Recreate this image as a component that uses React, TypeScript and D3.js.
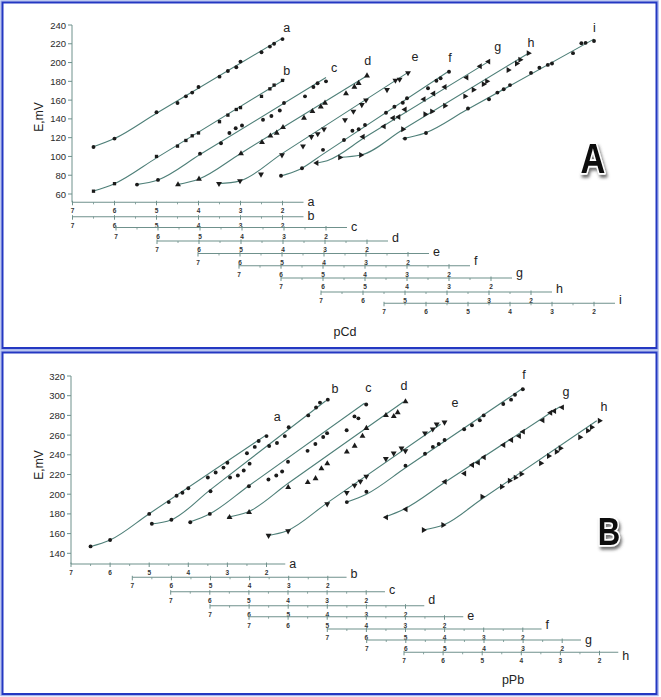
import React from "react";
import * as d3 from "d3";

// ---------------- shared values ----------------
const pConc = [6.5, 6, 5, 4.5, 4.3, 4.15, 4, 3.5, 3.3, 3.1, 3, 2.5, 2.3, 2.2, 2];
const pTickValues = [7, 6, 5, 4, 3, 2];
const pMinorValues = [6.5, 5.5, 4.5, 3.5, 2.5];

// ---------------- panel A : Cd ----------------
const cdYTicks = [60, 80, 100, 120, 140, 160, 180, 200, 220, 240];
const cdNames = ["a", "b", "c", "d", "e", "f", "g", "h", "i"];
const cdMarkers = ["circle", "square", "circle", "up", "down", "circle", "left", "right", "circle"];

const cdP_e = [6.5, 6, 5.5, 5, 4.5, 4.3, 4.15, 4, 3.5, 3.3, 3.1, 3, 2.5, 2.3, 2.2, 2];
const cdP_f = [6, 5.5, 5, 4.5, 4.3, 4.15, 4, 3.5, 3.3, 3.1, 3, 2.5, 2.3, 2.2, 2];
const cdP_g = [6.15, 5.05, 4.55, 4.33, 4.2, 4.05, 3.6, 3.37, 3.1, 2.58, 2.26, 2.06];
const cdP_h = [6.55, 6.05, 5.05, 4.52, 4.36, 4.05, 3.57, 3.37, 3.13, 3.05, 2.54, 2.34, 2.26, 2.06];

const cdE_a = [110, 119, 147, 157, 164, 168, 174, 185, 191, 195, 201, 211, 217, 220, 225];
const cdE_b = [63, 71, 100, 111, 117, 122, 125, 137, 144, 150, 152, 164, 172, 176, 181];
const cdE_c = [70, 75, 103, 114, 125, 130, 133, 139, 143, 149, 157, 164, 174, 178, 180];
const cdE_d = [70, 76, 103, 115, 122, 125, 131, 141, 148, 153, 157, 167, 174, 178, 186];
const cdE_e = [71, 74, 81, 101.5, 111, 121, 124, 129, 139, 148, 155, 160, 171, 181, 182, 189];
const cdE_f = [79.5, 87.4, 107, 117.5, 127.4, 129, 133.5, 146.6, 153, 157.2, 162, 172.6, 180.7, 183.2, 190.2];
const cdE_g = [93, 121, 132, 141, 142, 150, 161, 167, 174, 184, 196, 201];
const cdE_h = [99, 101.5, 129, 145, 148, 154, 164, 171, 177, 180, 192, 199, 203, 210];
const cdE_i = [119, 125, 151, 161, 168, 171.5, 176, 189, 194.5, 197.5, 199, 210, 220.5, 221, 223];

// fitted calibration lines [pCd, E]
const cdFit_a = [[6.52, 110], [6.0, 119], [5.0, 146], [2.0, 226]];
const cdFit_b = [[6.52, 63], [6.0, 71], [5.0, 98.5], [1.95, 182]];
const cdFit_c = [[6.52, 70], [6.0, 75], [5.0, 102], [2.0, 184]];
const cdFit_d = [[6.52, 70], [6.0, 76], [5.0, 103.5], [2.0, 186]];
const cdFit_e = [[6.52, 71], [6.0, 74], [5.0, 103], [2.0, 189.5]];
const cdFit_f = [[6.02, 79], [5.56, 86], [5.0, 102.5], [2.0, 191]];
const cdFit_g = [[6.14, 93], [5.9, 95.5], [5.0, 120.4], [2.06, 201]];
const cdFit_h = [[6.57, 99], [6.05, 101.5], [5.05, 128.7], [2.06, 210]];
const cdFit_i = [[6.56, 119], [6.02, 125], [5.05, 149.2], [2.0, 225]];

// ---------------- panel B : Pb ----------------
const pbYTicks = [140, 160, 180, 200, 220, 240, 260, 280, 300, 320];
const pbNames = ["a", "b", "c", "d", "e", "f", "g", "h"];
const pbMarkers = ["circle", "circle", "circle", "up", "down", "circle", "left", "right"];

const pbE_a = [147, 153.5, 180, 192, 198.5, 201.5, 206, 217, 222, 227, 232, 241.5, 248, 254, 259];
const pbE_b = [170, 174, 203, 217, 219, 224, 231, 249, 252, 259, 268, 280, 288, 293, 296];
const pbE_c = [171.5, 180, 208, 215, 219, 223, 233, 244, 251, 258, 262, 265, 279, 277, 291];
const pbE_d = [176.5, 181.6, 207, 212, 216, 226, 231, 243, 249, 259, 267, 280, 279, 283, 294];
const pbE_e = [158, 162.6, 190, 201.5, 209, 213, 218, 236, 241.5, 246.6, 244, 262, 266, 271, 273];
const pbE_f = [192, 202.5, 229, 241, 248, 251, 255, 266, 270, 275, 280, 291.6, 296, 301, 306.5];
const pbE_g = [176.5, 184.7, 212.7, 221, 229.6, 232, 237.5, 250, 255, 259, 263.5, 275, 282.7, 284.5, 288.2];
const pbE_h = [163.6, 168.7, 197.5, 207.6, 213.7, 216.8, 220.5, 231.4, 238.8, 243.1, 246.6, 257.8, 264.5, 268, 274.6];

const pbFit_a = [[6.51, 146.7], [6.0, 153.5], [5.0, 180.2], [2.01, 260]];
const pbFit_b = [[6.52, 169.7], [6.01, 173.8], [5.0, 204.7], [2.05, 294.9]];
const pbFit_c = [[6.53, 171.5], [6.02, 179.6], [5.0, 208.6], [2.04, 292.4]];
const pbFit_d = [[6.56, 176.5], [6.05, 181.6], [5.0, 211.1], [2.05, 293.9]];
const pbFit_e = [[6.53, 157.9], [6.04, 162.6], [5.0, 191.2], [2.1, 271]];
const pbFit_f = [[6.52, 191.8], [6.0, 200], [5.0, 226.9], [2.0, 307.5]];
const pbFit_g = [[6.55, 176.5], [6.05, 184.7], [5.0, 212.1], [2.06, 288.8]];
const pbFit_h = [[6.51, 163.6], [5.99, 168.7], [5.0, 195.4], [2.07, 274.6]];

// ---------------- build series ----------------
const cdSeries = [
  { p: pConc, E: cdE_a, fit: cdFit_a },
  { p: pConc, E: cdE_b, fit: cdFit_b },
  { p: pConc, E: cdE_c, fit: cdFit_c },
  { p: pConc, E: cdE_d, fit: cdFit_d },
  { p: cdP_e, E: cdE_e, fit: cdFit_e },
  { p: cdP_f, E: cdE_f, fit: cdFit_f },
  { p: cdP_g, E: cdE_g, fit: cdFit_g },
  { p: cdP_h, E: cdE_h, fit: cdFit_h },
  { p: pConc, E: cdE_i, fit: cdFit_i },
].map((s, i) => ({ ...s, name: cdNames[i], marker: cdMarkers[i] }));

const pbSeries = [
  { p: pConc, E: pbE_a, fit: pbFit_a },
  { p: pConc, E: pbE_b, fit: pbFit_b },
  { p: pConc, E: pbE_c, fit: pbFit_c },
  { p: pConc, E: pbE_d, fit: pbFit_d },
  { p: pConc, E: pbE_e, fit: pbFit_e },
  { p: pConc, E: pbE_f, fit: pbFit_f },
  { p: pConc, E: pbE_g, fit: pbFit_g },
  { p: pConc, E: pbE_h, fit: pbFit_h },
].map((s, i) => ({ ...s, name: pbNames[i], marker: pbMarkers[i] }));

// ---------------- layout (positions only) ----------------
const layoutA = {
  yDomain: [60, 240],
  yRange: [194, 25],
  yAxisX: 72,
  unit: 42,
  pEnd: 1.5,
  x0: [72.5, 72.5, 116, 157, 198, 239, 281, 321, 384],
  axisY: [202.3, 216.7, 227.5, 241, 253.5, 265.7, 278, 292, 303.3],
  seriesLabel: [
    [286.7, 28.3], [286.7, 70.7], [334, 68.3], [367.7, 61], [415, 56.7],
    [450, 58.3], [497.7, 46.7], [531, 43.3], [594.3, 28.3],
  ],
  axisLabelDy: [0, -1, -1, -3, -2, -5, -5, -3, -3],
  yTitle: [39, 117],
  xTitle: [345, 336, "pCd"],
  letter: [593, 173, 42, "A"],
  rect: [2.5, 2.5, 654, 345.5],
};

const layoutB = {
  yDomain: [140, 320],
  yRange: [553.3, 376],
  yAxisX: 71,
  unit: 39.1,
  pEnd: 1.52,
  x0: [71, 132.3, 170.7, 210, 249, 327.3, 366.7, 404],
  axisY: [564, 577.3, 591.7, 605.7, 616.7, 629, 640, 652.3],
  seriesLabel: [
    [277.3, 417.3], [335, 389.3], [368.3, 387.7], [404, 386], [455, 403.3],
    [524, 375], [566, 391.7], [604, 407.3],
  ],
  axisLabelDy: [0, -3, -2, -6, -1, -4, 0, 4],
  yTitle: [39, 465],
  xTitle: [513, 684, "pPb"],
  letter: [609, 545, 38, "B"],
  rect: [2.5, 352.5, 654, 341.5],
};

const LINE = "#4e7f78";
const AXIS = "#6f918c";
const MARK = "#1b1b1b";
const FONT = "'Liberation Sans', Arial, Helvetica, sans-serif";

function markerPath(kind: string) {
  if (kind === "circle") return { d: d3.symbol().type(d3.symbolCircle).size(12)() as string, rot: 0 };
  if (kind === "square") return { d: d3.symbol().type(d3.symbolSquare).size(11)() as string, rot: 0 };
  const d = d3.symbol().type(d3.symbolTriangle).size(15)() as string;
  const rot = kind === "up" ? 0 : kind === "down" ? 180 : kind === "left" ? -90 : 90;
  return { d, rot };
}

function Panel({ series, L, id }: any) {
  const ys = d3.scaleLinear().domain(L.yDomain).range(L.yRange);
  const [rx, ry, rw, rh] = L.rect;
  const lx = L.letter;
  return (
    <g>
      <rect x={rx - 1.5} y={ry - 1.5} width={rw + 3} height={rh + 3} fill="none" stroke="#a9b8ec" strokeWidth={1.5} />
      <rect x={rx} y={ry} width={rw} height={rh} fill="#ffffff" stroke="#2438c2" strokeWidth={2} />

      {/* y axis */}
      <line x1={L.yAxisX} x2={L.yAxisX} y1={ys(L.yDomain[1])} y2={L.axisY[0]} stroke={AXIS} strokeWidth={1} />
      {(id === "A" ? cdYTicks : pbYTicks).map((t: number) => (
        <g key={t}>
          <line x1={L.yAxisX - 4} x2={L.yAxisX} y1={ys(t)} y2={ys(t)} stroke={AXIS} strokeWidth={1} />
          <text x={L.yAxisX - 6} y={ys(t)} textAnchor="end" dominantBaseline="central" fontSize={9.5} fontFamily={FONT} fill="#2a2a2a">
            {t}
          </text>
        </g>
      ))}
      <text
        transform={`translate(${L.yTitle[0]},${L.yTitle[1]}) rotate(-90)`}
        textAnchor="middle"
        dominantBaseline="central"
        fontSize={12}
        fontFamily={FONT}
        fill="#222"
      >
        E,mV
      </text>

      {series.map((s: any, i: number) => {
        const x0 = L.x0[i];
        const xs = d3.scaleLinear().domain([7, 2]).range([x0, x0 + 5 * L.unit]);
        const ay = L.axisY[i];
        const line = d3
          .line<number[]>()
          .x((d) => xs(d[0]))
          .y((d) => ys(d[1]))
          .curve(d3.curveMonotoneX);
        const mk = markerPath(s.marker);
        const endX = xs(L.pEnd);
        return (
          <g key={s.name}>
            {/* offset p axis for this curve */}
            <line x1={xs(7)} x2={endX} y1={ay} y2={ay} stroke={AXIS} strokeWidth={1.1} />
            {pTickValues.map((t) => (
              <g key={t}>
                <line x1={xs(t)} x2={xs(t)} y1={ay - 1.5} y2={ay + 3} stroke={AXIS} strokeWidth={1} />
                <text x={xs(t)} y={ay + 11} textAnchor="middle" fontSize={6.5} fontWeight="bold" fontFamily={FONT} fill="#333">
                  {t}
                </text>
              </g>
            ))}
            {pMinorValues.map((t) => (
              <line key={t} x1={xs(t)} x2={xs(t)} y1={ay} y2={ay + 2} stroke={AXIS} strokeWidth={0.8} />
            ))}
            <text x={endX + 4} y={ay + 4 + L.axisLabelDy[i]} fontSize={12.5} fontFamily={FONT} fill="#222">
              {s.name}
            </text>

            {/* calibration line */}
            <path d={line(s.fit) || ""} fill="none" stroke={LINE} strokeWidth={1.1} />
            {/* points */}
            {s.p.map((p: number, j: number) => (
              <path
                key={j}
                d={mk.d}
                transform={`translate(${xs(p)},${ys(s.E[j])}) rotate(${mk.rot})`}
                fill={MARK}
              />
            ))}
            <text
              x={L.seriesLabel[i][0]}
              y={L.seriesLabel[i][1]}
              textAnchor="middle"
              dominantBaseline="central"
              fontSize={12.5}
              fontFamily={FONT}
              fill="#222"
            >
              {s.name}
            </text>
          </g>
        );
      })}

      <text x={L.xTitle[0]} y={L.xTitle[1]} textAnchor="middle" fontSize={12.5} fontFamily={FONT} fill="#222">
        {L.xTitle[2]}
      </text>

      <g transform={`translate(${lx[0]},${lx[1]}) scale(0.82,1)`}>
        <text
          x={0}
          y={0}
          textAnchor="middle"
          fontSize={lx[2]}
          fontWeight="bold"
          fontFamily={FONT}
          fill="#0a0a0a"
          stroke="#ffffff"
          strokeWidth={3.5}
          strokeLinejoin="round"
          paintOrder="stroke"
          filter="url(#letterShadow)"
        >
          {lx[3]}
        </text>
      </g>
    </g>
  );
}

export default function App() {
  return (
    <svg
      width={661}
      height={697}
      viewBox="0 0 661 697"
      style={{ position: "absolute", left: 0, top: 0, display: "block", background: "#ffffff" }}
    >
      <defs>
        <filter id="letterShadow" x="-40%" y="-40%" width="180%" height="180%">
          <feDropShadow dx={2} dy={3} stdDeviation={1.8} floodColor="#444" floodOpacity={0.75} />
        </filter>
      </defs>
      <rect x={0} y={0} width={661} height={697} fill="#ffffff" />
      <Panel series={cdSeries} L={layoutA} id="A" />
      <Panel series={pbSeries} L={layoutB} id="B" />
    </svg>
  );
}
